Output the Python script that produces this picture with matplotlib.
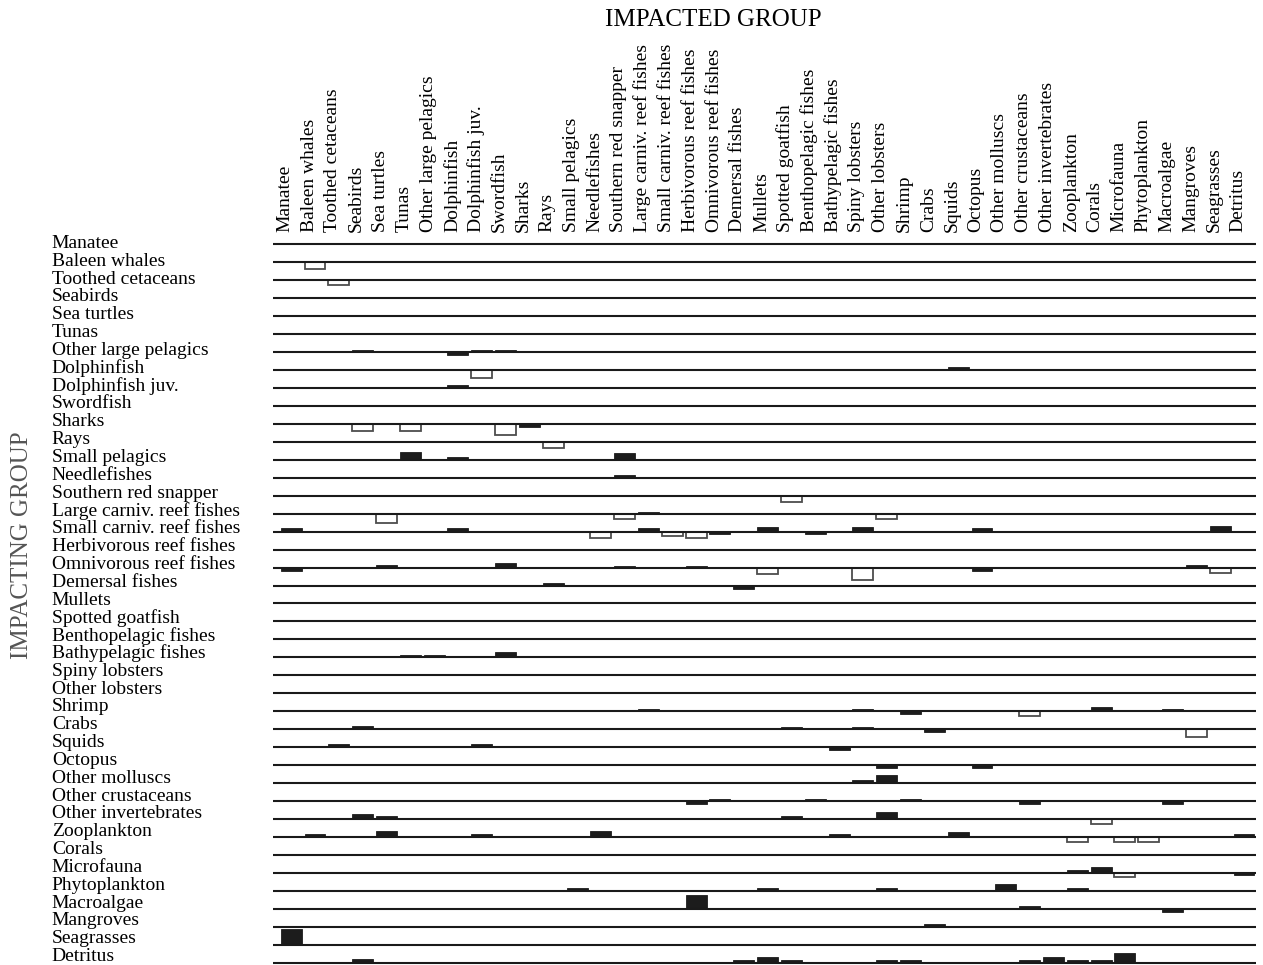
import matplotlib
matplotlib.use("Agg")
import matplotlib.pyplot as plt
import matplotlib.transforms as mtransforms

plt.rcParams['font.family'] = ['Liberation Serif', 'DejaVu Serif']

# Functional groups (same list for impacting rows and impacted columns)
groups = [
    "Manatee", "Baleen whales", "Toothed cetaceans", "Seabirds", "Sea turtles",
    "Tunas", "Other large pelagics", "Dolphinfish", "Dolphinfish juv.", "Swordfish",
    "Sharks", "Rays", "Small pelagics", "Needlefishes", "Southern red snapper",
    "Large carniv. reef fishes", "Small carniv. reef fishes", "Herbivorous reef fishes",
    "Omnivorous reef fishes", "Demersal fishes", "Mullets", "Spotted goatfish",
    "Benthopelagic fishes", "Bathypelagic fishes", "Spiny lobsters", "Other lobsters",
    "Shrimp", "Crabs", "Squids", "Octopus", "Other molluscs", "Other crustaceans",
    "Other invertebrates", "Zooplankton", "Corals", "Microfauna", "Phytoplankton",
    "Macroalgae", "Mangroves", "Seagrasses", "Detritus",
]

# Mixed trophic impacts
# impacting group index, impacted group index, impact, filled bar?
impacting = [
    1, 2,
    6, 6, 6, 6,
    7, 7,
    8,
    10, 10, 10, 10,
    11,
    12, 12, 12,
    13,
    14,
    15, 15, 15, 15,
    16, 16, 16, 16, 16, 16, 16, 16, 16, 16, 16, 16,
    18, 18, 18, 18, 18, 18, 18, 18, 18, 18,
    19, 19,
    23, 23, 23,
    26, 26, 26, 26, 26, 26,
    27, 27, 27, 27, 27,
    28, 28, 28,
    29, 29,
    30, 30,
    31, 31, 31, 31, 31, 31,
    32, 32, 32, 32, 32,
    33, 33, 33, 33, 33, 33, 33, 33, 33, 33,
    35, 35, 35, 35,
    36, 36, 36, 36, 36,
    37, 37, 37,
    38,
    39,
    40, 40, 40, 40, 40, 40, 40, 40, 40, 40, 40,
]
impacted = [
    1, 2,
    3, 7, 8, 9,
    8, 28,
    7,
    3, 5, 9, 10,
    11,
    5, 7, 14,
    14,
    21,
    4, 14, 15, 25,
    0, 7, 13, 15, 16, 17, 18, 20, 22, 24, 29, 39,
    0, 4, 9, 14, 17, 20, 24, 29, 38, 39,
    11, 19,
    5, 6, 9,
    15, 24, 26, 31, 34, 37,
    3, 21, 24, 27, 38,
    2, 8, 23,
    25, 29,
    24, 25,
    17, 18, 22, 26, 31, 37,
    3, 4, 21, 25, 34,
    1, 4, 8, 13, 23, 28, 33, 35, 36, 40,
    33, 34, 35, 40,
    12, 20, 25, 30, 33,
    17, 31, 37,
    27,
    0,
    3, 19, 20, 21, 25, 26, 31, 32, 33, 34, 35,
]
impact = [
    -0.37, -0.28,
    0.14, -0.18, 0.14, 0.14,
    -0.46, 0.18,
    0.18,
    -0.37, -0.37, -0.63, -0.17,
    -0.37,
    0.41, 0.18, 0.37,
    0.18,
    -0.37,
    -0.52, -0.28, 0.10, -0.28,
    0.18, 0.18, -0.37, 0.18, -0.24, -0.37, -0.15, 0.28, -0.15, 0.28, 0.18, 0.31,
    -0.18, 0.15, 0.28, 0.11, 0.11, -0.37, -0.72, -0.18, 0.15, -0.28,
    0.15, -0.18,
    0.15, 0.15, 0.28,
    0.13, 0.13, -0.18, -0.28, 0.26, 0.15,
    0.18, 0.15, 0.15, -0.18, -0.46,
    0.15, 0.15, -0.18,
    -0.18, -0.15,
    0.18, 0.44,
    -0.15, 0.13, 0.13, 0.13, -0.15, -0.15,
    0.26, 0.15, 0.17, 0.37, -0.28,
    0.18, 0.31, 0.18, 0.31, 0.15, 0.30, -0.26, -0.26, -0.26, 0.18,
    0.15, 0.33, -0.24, -0.13,
    0.18, 0.15, 0.15, 0.37, 0.15,
    0.78, 0.18, -0.18,
    0.15,
    0.87,
    0.18, 0.17, 0.30, 0.17, 0.17, 0.17, 0.17, 0.30, 0.17, 0.17, 0.52,
]
filled = [
    False, False,
    True, True, True, True,
    False, True,
    True,
    False, False, False, True,
    False,
    True, True, True,
    True,
    False,
    False, False, True, False,
    True, True, False, True, False, False, True, True, True, True, True, True,
    True, True, True, True, True, False, False, True, True, False,
    True, True,
    True, True, True,
    True, True, True, False, True, True,
    True, True, True, True, False,
    True, True, True,
    True, True,
    True, True,
    True, True, True, True, True, True,
    True, True, True, True, False,
    True, True, True, True, True, True, False, False, False, True,
    True, True, False, True,
    True, True, True, True, True,
    True, True, True,
    True,
    True,
    True, True, True, True, True, True, True, True, True, True, True,
]

n = len(groups)

fig = plt.figure(figsize=(12.63, 9.65), dpi=100)
ax = fig.add_axes([0.2117, 0.0005, 0.7827, 0.765])
ax.set_xlim(-1, 40.5)
ax.set_ylim(40.1, -1)
ax.axis('off')

# baselines
for i in range(n):
    ax.plot([-0.76, 40.5], [i, i], color='#1a1a1a', lw=1.5, zorder=3,
            solid_capstyle='butt')

# impact bars: positive above the line, negative below
for r, c, v, f in zip(impacting, impacted, impact, filled):
    if f:
        ax.bar(c, -v, bottom=r, width=0.88, color='#1c1c1c',
               edgecolor='#1c1c1c', lw=0.6, zorder=2)
    else:
        ax.bar(c, -v, bottom=r, width=0.88, color='white',
               edgecolor='#4d4d4d', lw=1.3, zorder=2)

# row labels (impacting group)
trans_rows = mtransforms.blended_transform_factory(fig.transFigure, ax.transData)
for i, name in enumerate(groups):
    ax.text(0.041, i * 0.9928 - 0.05, name, transform=trans_rows, ha='left',
            va='center', fontsize=14, clip_on=False)

# column labels (impacted group)
trans_cols = mtransforms.blended_transform_factory(ax.transData, fig.transFigure)
for j, name in enumerate(groups):
    ax.text(j - 0.25, 0.7596, name, transform=trans_cols, rotation=90,
            ha='center', va='bottom', fontsize=14, clip_on=False)

fig.text(0.5646, 0.979, "IMPACTED GROUP", ha='center', va='center',
         fontsize=18)
fig.text(0.0175, 0.435, "IMPACTING GROUP", ha='center', va='center',
         rotation=90, fontsize=18, color='#555555')

fig.savefig("out.png", dpi=100)
